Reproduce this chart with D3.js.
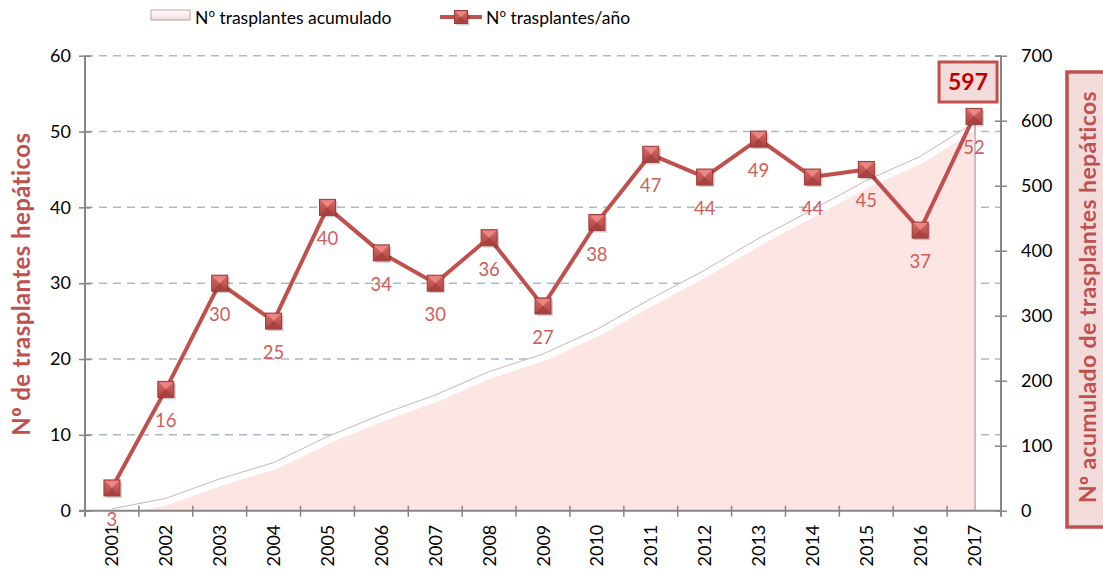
<!DOCTYPE html>
<html>
<head>
<meta charset="utf-8">
<script src="https://cdn.jsdelivr.net/npm/d3@7"></script>
<style>
  body { margin: 0; background: #fff; }
  svg text { font-family: Lato, "Open Sans", sans-serif; }
  .ord { font-family: "Open Sans", sans-serif; }
</style>
</head>
<body>
<div id="chart"></div>
<script>

var years = ['2001','2002','2003','2004','2005','2006','2007','2008','2009','2010','2011','2012','2013','2014','2015','2016','2017'];
var perYear = [3, 16, 30, 25, 40, 34, 30, 36, 27, 38, 47, 44, 49, 44, 45, 37, 52];
var cumulative = [3, 19, 49, 74, 114, 148, 178, 214, 241, 279, 326, 370, 419, 463, 508, 545, 597];
var leftTicks = [0, 10, 20, 30, 40, 50, 60];
var rightTicks = [0, 100, 200, 300, 400, 500, 600, 700];

var width = 1103;
var height = 569;
var plotLeft = 85;
var plotRight = 1001;
var plotTop = 55.7;
var plotBottom = 510.7;
var red = '#c0504d';

var svg = d3.select('#chart')
    .append('svg')
        .attr('width', width)
        .attr('height', height);

var x = d3.scaleBand()
    .domain(years)
    .range([plotLeft, plotRight]);

var y = d3.scaleLinear()
    .domain([0, 60])
    .range([plotBottom, plotTop]);

var y2 = d3.scaleLinear()
    .domain([0, 700])
    .range([plotBottom, plotTop]);

function cx(d, i) { return x(years[i]) + x.bandwidth() / 2; }

// "Nº ..." text with the ordinal sign from a font that draws it underlined
function labelText(sel, str) {
    var rest = str.replace(/^Nº/, '');
    sel.append('tspan').text('N');
    sel.append('tspan').attr('class', 'ord').text('º');
    sel.append('tspan').text(rest);
}

// grid
svg.append('g')
    .selectAll('line')
    .data(leftTicks.slice(1))
    .enter().append('line')
        .attr('x1', plotLeft)
        .attr('x2', plotRight)
        .attr('y1', function(d) { return y(d); })
        .attr('y2', function(d) { return y(d); })
        .attr('stroke', '#a9bcc4')
        .attr('stroke-width', 1.5)
        .attr('stroke-dasharray', '8,6');

// cumulative area
var areaGen = d3.area()
    .x(cx)
    .y0(plotBottom)
    .y1(function(d) { return y2(d); });

var lineGen = d3.line()
    .x(cx)
    .y(function(d) { return y2(d); });

var defs = svg.append('defs');
defs.append('clipPath')
    .attr('id', 'areaClip')
    .append('path')
        .attr('d', areaGen(cumulative));

var grad = defs.append('linearGradient')
    .attr('id', 'markerGrad')
    .attr('x1', 0).attr('y1', 0).attr('x2', 0).attr('y2', 1);
grad.append('stop').attr('offset', '0%').attr('stop-color', '#d66a67');
grad.append('stop').attr('offset', '100%').attr('stop-color', '#b04441');

svg.append('path')
    .attr('d', areaGen(cumulative))
    .attr('fill', '#fde5e4');

svg.append('path')
    .attr('d', lineGen(cumulative))
    .attr('clip-path', 'url(#areaClip)')
    .attr('fill', 'none')
    .attr('stroke', '#ffffff')
    .attr('stroke-width', 14);

svg.append('path')
    .attr('d', lineGen(cumulative))
    .attr('fill', 'none')
    .attr('stroke', '#c9b7b7')
    .attr('stroke-width', 1);

// right edge of the area
svg.append('line')
    .attr('x1', cx(0, years.length - 1) + 1)
    .attr('x2', cx(0, years.length - 1) + 1)
    .attr('y1', y2(cumulative[cumulative.length - 1]))
    .attr('y2', plotBottom)
    .attr('stroke', '#c8bcbc')
    .attr('stroke-width', 2);

// axes
var xAxis = svg.append('g')
    .attr('transform', 'translate(0,' + plotBottom + ')');
xAxis.append('line')
    .attr('x1', plotLeft - 6)
    .attr('x2', plotRight)
    .attr('stroke', '#868686')
    .attr('stroke-width', 2);
xAxis.selectAll('.tk')
    .data(years.slice(1))
    .enter().append('line')
        .attr('x1', function(d) { return x(d); })
        .attr('x2', function(d) { return x(d); })
        .attr('y1', -5)
        .attr('y2', 6)
        .attr('stroke', '#868686')
        .attr('stroke-width', 1.5);
xAxis.selectAll('text')
    .data(years)
    .enter().append('text')
        .attr('transform', function(d) {
            return 'translate(' + (x(d) + x.bandwidth() / 2 + 6.5) + ',14) rotate(-90)';
        })
        .attr('text-anchor', 'end')
        .attr('font-size', 18)
        .attr('fill', '#000')
        .text(function(d) { return d; });

var yAxis = d3.axisLeft(y)
    .tickValues(leftTicks)
    .tickSizeInner(6)
    .tickSizeOuter(0)
    .tickPadding(8);

var yG = svg.append('g')
    .attr('transform', 'translate(' + plotLeft + ',0)')
    .call(yAxis);
yG.select('.domain').attr('stroke', '#868686').attr('stroke-width', 2)
    .attr('d', 'M0,' + plotTop + 'V' + (plotBottom + 6));
yG.selectAll('.tick line').attr('stroke', '#868686').attr('stroke-width', 1.5)
    .attr('x1', 6);
yG.selectAll('.tick text').attr('font-size', 18).attr('fill', '#000')
    .style('font-family', 'Lato, sans-serif');

var y2Axis = d3.axisRight(y2)
    .tickValues(rightTicks)
    .tickSizeInner(6)
    .tickSizeOuter(0)
    .tickPadding(14);

var y2G = svg.append('g')
    .attr('transform', 'translate(' + plotRight + ',0)')
    .call(y2Axis);
y2G.select('.domain').attr('stroke', '#868686').attr('stroke-width', 2)
    .attr('d', 'M0,' + plotTop + 'V' + (plotBottom + 6));
y2G.selectAll('.tick line').attr('stroke', '#868686').attr('stroke-width', 1.5)
    .attr('x1', -6);
y2G.selectAll('.tick text').attr('font-size', 18).attr('fill', '#000')
    .style('font-family', 'Lato, sans-serif');

// per-year line
svg.append('path')
    .datum(perYear)
    .attr('fill', 'none')
    .attr('stroke', red)
    .attr('stroke-width', 4)
    .attr('stroke-linejoin', 'round')
    .attr('d', d3.line()
        .x(cx)
        .y(function(d) { return y(d); })
    );

function drawMarker(g, px, py, s) {
    var h = s / 2;
    g.append('rect')
        .attr('x', px - h + 2).attr('y', py - h + 2)
        .attr('width', s).attr('height', s)
        .attr('fill', 'rgba(0,0,0,0.18)');
    g.append('rect')
        .attr('x', px - h).attr('y', py - h)
        .attr('width', s).attr('height', s)
        .attr('fill', 'url(#markerGrad)')
        .attr('stroke', '#9c3a38')
        .attr('stroke-width', 1);
    g.append('path')
        .attr('d', 'M' + (px - h + 1) + ',' + (py - h + 1) + 'L' + (px + h - 1) + ',' + (py - h + 1) + 'L' + px + ',' + py + 'Z')
        .attr('fill', '#e88784');
    g.append('path')
        .attr('d', 'M' + (px - h + 1) + ',' + (py + h - 1) + 'L' + (px + h - 1) + ',' + (py + h - 1) + 'L' + px + ',' + py + 'Z')
        .attr('fill', '#a84240');
}

var markers = svg.append('g');
perYear.forEach(function(d, i) {
    drawMarker(markers, cx(d, i), y(d), 16);
});

svg.append('g')
    .selectAll('text')
    .data(perYear)
    .enter().append('text')
        .attr('x', cx)
        .attr('y', function(d) { return y(d) + 38; })
        .attr('text-anchor', 'middle')
        .attr('font-size', 18.5)
        .attr('fill', '#cf5e5b')
        .text(function(d) { return d; });

// total label
var last = cumulative[cumulative.length - 1];
var bx = cx(0, years.length - 1);
svg.append('rect')
    .attr('x', bx - 35).attr('y', 62)
    .attr('width', 58).attr('height', 40)
    .attr('fill', '#f2dcdb')
    .attr('stroke', red)
    .attr('stroke-width', 3);
svg.append('text')
    .attr('x', bx - 6).attr('y', 90)
    .attr('text-anchor', 'middle')
    .attr('font-size', 23)
    .attr('font-weight', 'bold')
    .attr('fill', '#c00000')
    .text(last);

// axis titles
svg.append('text')
    .attr('transform', 'translate(30,' + ((plotTop + plotBottom) / 2 + 1) + ') rotate(-90)')
    .attr('text-anchor', 'middle')
    .attr('font-size', 24)
    .attr('font-weight', 'bold')
    .attr('letter-spacing', 0.4)
    .attr('fill', red)
    .call(labelText, 'Nº de trasplantes hepáticos');

svg.append('rect')
    .attr('x', 1067).attr('y', 72)
    .attr('width', 50).attr('height', 455)
    .attr('fill', '#f2dcdb')
    .attr('stroke', red)
    .attr('stroke-width', 3.5);
svg.append('text')
    .attr('transform', 'translate(1096,' + 297 + ') rotate(-90)')
    .attr('text-anchor', 'middle')
    .attr('font-size', 23)
    .attr('font-weight', 'bold')
    .attr('letter-spacing', 0.4)
    .attr('fill', red)
    .call(labelText, 'Nº acumulado de trasplantes hepáticos');

// legend
var legend = svg.append('g');
var lg = defs.append('linearGradient')
    .attr('id', 'legGrad')
    .attr('x1', 0).attr('y1', 0).attr('x2', 0).attr('y2', 1);
lg.append('stop').attr('offset', '0%').attr('stop-color', '#ffffff');
lg.append('stop').attr('offset', '100%').attr('stop-color', '#f3dcdc');
legend.append('rect')
    .attr('x', 151).attr('y', 10)
    .attr('width', 39).attr('height', 10)
    .attr('fill', 'url(#legGrad)')
    .attr('stroke', '#b9a5a5')
    .attr('stroke-width', 1);
legend.append('text')
    .attr('x', 195).attr('y', 24)
    .attr('font-size', 17.5)
    .attr('fill', '#000')
    .call(labelText, 'Nº trasplantes acumulado');

legend.append('line')
    .attr('x1', 440).attr('x2', 482)
    .attr('y1', 17).attr('y2', 17)
    .attr('stroke', red)
    .attr('stroke-width', 4);
drawMarker(legend, 461, 17, 13);
legend.append('text')
    .attr('x', 486).attr('y', 24)
    .attr('font-size', 17.5)
    .attr('fill', '#000')
    .call(labelText, 'Nº trasplantes/año');

</script>
</body>
</html>
